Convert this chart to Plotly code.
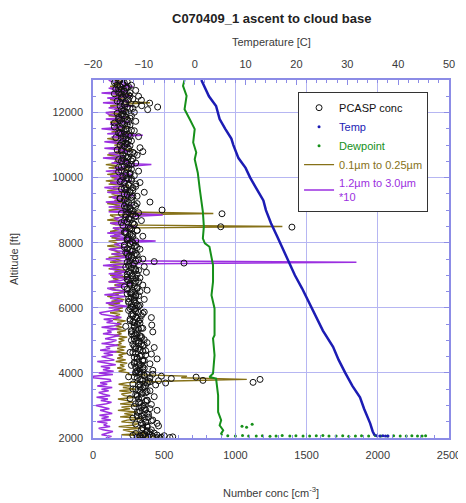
import plotly.graph_objects as go

# ---------------- data ----------------
# Temperature profile (deg C) vs altitude (ft)
temp_alt = [13000, 12500, 12200, 12000, 11800, 11500, 11200, 11000, 10600, 10300, 10000, 9700,
            9300, 9000, 8600, 8200, 7800, 7400, 7000, 6600, 6100, 5700, 5300, 4800, 4400,
            4000, 3600, 3250, 2900, 2450, 2200, 2080]
temp_val = [1.3, 2.8, 4.2, 4.5, 4.9, 6.0, 7.2, 7.6, 8.6, 10.0, 10.9, 12.0,
            13.5, 14.0, 15.0, 16.2, 17.4, 18.6, 19.7, 21.1, 22.7, 24.0, 25.2, 27.2, 28.3,
            29.6, 31.0, 32.5, 33.3, 34.5, 35.0, 35.4]
temp_dot_alt = [2070, 2065, 2070, 2060, 2065]
temp_dot_val = [35.8, 36.4, 37.0, 37.5, 38.0]

# Dewpoint (deg C) vs altitude (ft)
dew_alt = [13000, 12820, 12510, 12100, 11800, 11490, 11080, 10770, 10565, 10150, 9640, 9335,
           8955, 8500, 8135, 7980, 7877, 7314, 6800, 6390, 5980, 5672, 5160, 5060, 4545,
           3980, 3877, 3827, 3313, 2800, 2545, 2390, 2237, 2135, 2080]
dew_val = [-2.0, -2.3, -1.6, -2.0, -1.0, 0.0, -0.3, 0.3, 0.0, 0.6, 1.0, 1.3,
           1.6, 1.8, 1.6, 2.0, 2.9, 3.6, 3.6, 3.3, 3.9, 3.9, 3.9, 3.6, 3.9,
           3.6, 2.9, 4.2, 4.6, 4.6, 5.2, 4.9, 5.6, 5.2, 5.4]
dew_dot_alt = [2070, 2060, 2075, 2065, 2060, 2070, 2055, 2065, 2075, 2060, 2070, 2065,
               2060, 2070, 2075, 2060, 2065, 2070, 2055, 2065, 2070, 2060, 2075, 2065,
               2060, 2070, 2065, 2060, 2070, 2065, 2060, 2070, 2360, 2420, 2330]
dew_dot_val = [6.5, 8.0, 9.4, 10.6, 12.1, 13.3, 14.8, 16.0, 17.2, 18.7, 19.9, 21.3,
               22.6, 23.9, 25.2, 26.4, 27.8, 29.1, 30.3, 31.6, 32.8, 34.2, 35.5, 36.6,
               37.9, 39.1, 40.4, 41.6, 42.7, 43.8, 44.7, 45.4, 9.3, 11.3, 10.2]

# PCASP concentration (cm^-3) vs altitude (ft)
pcasp_alt = [
    12980, 12950, 12920, 12880, 12840, 12800, 12760, 12720, 12680, 12650, 12610, 12570,
    12540, 12500, 12460, 12420, 12380, 12330, 12290, 12250, 12210, 12170, 12130, 12090, 12050, 12010,
    11960, 11900, 11850, 11790, 11730, 11680, 11620, 11560, 11500, 11440, 11380, 11320, 11260, 11200, 11130, 11060,
    10980, 10920, 10860, 10800, 10740, 10690, 10630, 10570, 10510, 10450, 10390, 10320, 10260, 10200, 10130, 10060,
    9970, 9910, 9850, 9790, 9730, 9670, 9610, 9550, 9490, 9430, 9370, 9310, 9250, 9190, 9120, 9050, 9006,
    8980, 8920, 8890, 8860, 8800, 8740, 8680, 8620, 8560, 8490, 8480, 8440, 8380, 8320, 8260, 8200, 8130, 8060,
    7980, 7920, 7860, 7800, 7740, 7680, 7620, 7560, 7500, 7440, 7420, 7375, 7330, 7270, 7210, 7150, 7090, 7030,
    6980, 6920, 6870, 6810, 6760, 6700, 6650, 6590, 6540, 6480, 6430, 6370, 6320, 6260, 6200, 6140, 6080, 6020,
    5980, 5920, 5870, 5810, 5760, 5700, 5650, 5590, 5540, 5470, 5430, 5370, 5320, 5260, 5200, 5140, 5080, 5020,
    4980, 4930, 4880, 4830, 4780, 4730, 4680, 4630, 4580, 4530, 4480, 4430, 4380, 4330, 4280, 4230, 4180, 4130, 4080, 4030,
    3990, 3960, 3930, 3900, 3880, 3870, 3850, 3830, 3800, 3790, 3770, 3760, 3740, 3710, 3690, 3660, 3630, 3610,
    3570, 3510, 3450, 3390, 3330, 3270, 3210, 3150, 3090, 3030, 2970, 2910, 2850, 2790, 2730, 2670, 2610, 2550,
    2490, 2450, 2430, 2370, 2310, 2250, 2190,
    2140, 2120, 2100, 2090, 2080, 2070, 2060, 2050, 2040, 2035, 2030, 2025, 2020, 2015, 2010, 2005,
    # dense core
    12990, 12915, 12840, 12765, 12690, 12615, 12540, 12465, 12390, 12315, 12240, 12165, 12090, 12015,
    11940, 11865, 11790, 11715, 11640, 11565, 11490, 11415, 11340, 11265, 11190, 11115, 11040,
    10965, 10890, 10815, 10740, 10665, 10590, 10515, 10440, 10365, 10290, 10215, 10140, 10065,
    9990, 9915, 9840, 9765, 9690, 9615, 9540, 9465, 9390, 9315, 9240, 9165, 9090, 9015,
    8940, 8865, 8790, 8715, 8640, 8565, 8490, 8415, 8340, 8265, 8190, 8115, 8040,
    7965, 7890, 7815, 7740, 7665, 7590, 7515, 7440, 7365, 7290, 7215, 7140, 7065,
    6990, 6915, 6840, 6765, 6690, 6615, 6540, 6465, 6390, 6315, 6240, 6165, 6090, 6015,
    5940, 5865, 5790, 5715, 5640, 5565, 5490, 5415, 5340, 5265, 5190, 5115, 5040,
    4965, 4890, 4815, 4740, 4665, 4590, 4515, 4440, 4365, 4290, 4215, 4140, 4065,
    3990, 3915, 3840, 3765, 3690, 3615, 3540, 3465, 3390, 3315, 3240, 3165, 3090, 3015,
    2940, 2865, 2790, 2715, 2640, 2565, 2490, 2415, 2340, 2265, 2190, 2115, 2040,
    # second core pass
    12952, 12877, 12802, 12727, 12652, 12577, 12502, 12427, 12352, 12277, 12202, 12127, 12052,
    11977, 11902, 11827, 11752, 11677, 11602, 11527, 11452, 11377, 11302, 11227, 11152, 11077,
    11002, 10927, 10852, 10777, 10702, 10627, 10552, 10477, 10402, 10327, 10252, 10177, 10102,
    10027, 9952, 9877, 9802, 9727, 9652, 9577, 9502, 9427, 9352, 9277, 9202, 9127,
    9052, 8977, 8902, 8827, 8752, 8677, 8602, 8527, 8452, 8377, 8302, 8227, 8152,
    8077, 8002, 7927, 7852, 7777, 7702, 7627, 7552, 7477, 7402, 7327, 7252, 7177,
    7102, 7027, 6952, 6877, 6802, 6727, 6652, 6577, 6502, 6427, 6352, 6277, 6202,
    6127, 6052, 5977, 5902, 5827, 5752, 5677, 5602, 5527, 5452, 5377, 5302, 5227,
    5152, 5077, 5002, 4927, 4852, 4777, 4702, 4627, 4552, 4477, 4402, 4327, 4252,
    4177, 4102, 4027, 3952, 3877, 3802, 3727, 3652, 3577, 3502, 3427, 3352, 3277,
    3202, 3127, 3052, 2977, 2902, 2827, 2752, 2677, 2602, 2527, 2452, 2377, 2302,
    2227, 2152, 2077, 2002]
pcasp_conc = [
    180, 240, 150, 210, 270, 190, 230, 160, 300, 220, 260, 200,
    250, 320, 200, 280, 340, 230, 398, 300, 342, 454, 260, 384, 220, 290,
    210, 270, 180, 240, 300, 200, 260, 150, 230, 290, 190, 250, 320, 210, 270, 230,
    260, 330, 200, 350, 290, 310, 240, 280, 200, 300, 250, 180, 270, 320, 230, 290,
    270, 200, 330, 250, 300, 220, 280, 360, 240, 310, 190, 270, 400, 230, 300, 260, 485,
    280, 320, 906, 230, 300, 250, 340, 200, 290, 897, 1397, 260, 310, 220, 280, 350, 240, 300,
    260, 300, 220, 330, 280, 240, 310, 270, 350, 300, 430, 639, 250, 360, 290, 320, 375, 240,
    280, 330, 240, 300, 260, 350, 220, 310, 380, 270, 240, 320, 290, 360, 250, 300, 330, 270,
    300, 250, 360, 280, 340, 410, 260, 320, 290, 413, 230, 350, 300, 420, 270, 330, 310, 360,
    320, 380, 280, 350, 430, 300, 370, 260, 410, 340, 290, 450, 360, 310, 400, 270, 350, 330, 420, 300,
    300, 420, 360, 480, 250, 724, 400, 550, 1173, 330, 772, 460, 390, 1124, 510, 280, 440, 370,
    330, 280, 400, 350, 300, 430, 260, 380, 320, 410, 290, 360, 450, 310, 390, 340, 280, 420,
    370, 450, 300, 460, 350, 410, 380,
    300, 400, 350, 450, 280, 500, 330, 420, 370, 560, 310, 480, 390, 540, 450, 340,
    # dense core
    190, 220, 170, 240, 200, 180, 230, 210, 250, 190, 220, 240, 200, 230,
    200, 230, 180, 250, 210, 190, 240, 220, 200, 260, 230, 210, 240,
    220, 250, 200, 260, 230, 210, 270, 240, 220, 250, 200, 260, 230,
    240, 270, 220, 250, 280, 230, 260, 240, 270, 220, 250, 290, 240, 260,
    250, 280, 230, 260, 240, 290, 250, 270, 230, 260, 280, 240, 270,
    260, 290, 240, 270, 300, 250, 280, 260, 290, 250, 270, 300, 260,
    270, 300, 250, 290, 260, 310, 280, 260, 300, 270, 290, 250, 310, 280,
    290, 320, 270, 300, 330, 280, 310, 290, 320, 270, 300, 340, 290,
    300, 340, 290, 320, 350, 300, 330, 310, 350, 290, 320, 360, 310,
    330, 360, 310, 350, 380, 320, 350, 330, 370, 310, 340, 380, 330, 360,
    340, 370, 320, 360, 390, 330, 370, 350, 380, 340, 400, 360, 420,
    # second core pass
    160, 210, 250, 180, 220, 150, 260, 200, 170, 230, 190, 280, 210,
    170, 220, 260, 190, 150, 240, 200, 270, 180, 230, 160, 250, 200,
    190, 240, 170, 280, 210, 250, 180, 230, 270, 200, 240, 180, 260,
    210, 250, 190, 300, 230, 200, 260, 220, 280, 190, 240, 310, 220,
    230, 270, 200, 300, 250, 220, 280, 210, 260, 310, 230, 270, 250,
    240, 280, 220, 310, 260, 230, 290, 250, 320, 240, 280, 230, 300,
    250, 310, 240, 280, 320, 260, 290, 240, 330, 270, 300, 250, 290,
    270, 320, 260, 300, 350, 280, 310, 260, 330, 290, 340, 270, 310,
    290, 340, 270, 320, 360, 300, 330, 280, 370, 310, 350, 290, 330,
    300, 350, 320, 380, 290, 340, 400, 330, 360, 300, 380, 340, 310,
    320, 370, 300, 350, 400, 330, 380, 310, 360, 410, 340, 380, 350,
    380, 430, 350, 470]

# size-binned concentrations are sampled every 50 ft from 2000 to 13000 ft
bin_alt = list(range(2000, 13001, 50))

# 0.1um to 0.25um concentration (one row per 1000 ft)
small_conc = [
    300, 440, 200, 380, 260, 210, 340, 180, 290, 320, 200, 240, 350, 190, 280, 220, 310, 175, 260, 200,
    310, 190, 280, 240, 175, 300, 220, 200, 270, 185, 300, 210, 260, 180, 240, 560, 1080, 620, 660, 250,
    250, 180, 230, 170, 220, 190, 240, 160, 230, 170, 210, 180, 240, 150, 220, 170, 230, 160, 200, 180,
    220, 180, 240, 150, 200, 170, 230, 140, 210, 160, 200, 170, 230, 140, 190, 160, 190, 120, 210, 150,
    210, 150, 110, 190, 130, 220, 170, 100, 180, 140, 240, 160, 120, 200, 150, 230, 110, 180, 140, 250,
    120, 200, 150, 230, 110, 180, 140, 250, 120, 200, 160, 110, 230, 130, 190, 150, 120, 200, 100, 180,
    160, 110, 230, 130, 190, 150, 220, 120, 180, 140, 1330, 160, 120, 200, 100, 180, 140, 120, 845, 170,
    110, 220, 140, 190, 100, 210, 150, 240, 110, 180, 130, 220, 100, 190, 140, 250, 110, 180, 90, 200,
    130, 220, 100, 190, 140, 250, 110, 180, 90, 200, 150, 230, 120, 180, 100, 210, 160, 280, 130, 200,
    150, 230, 120, 180, 100, 210, 160, 280, 130, 200, 110, 240, 150, 180, 120, 220, 140, 260, 110, 200,
    110, 240, 150, 180, 120, 200, 400, 170, 120, 220, 140, 260, 110, 200, 150, 230, 120, 190, 140, 210,
    150]

# 1.2um to 3.0um concentration *10 (one row per 1000 ft)
large_conc = [
    90, 130, 60, 110, 140, 70, 40, 120, 75, 100, 30, 125, 60, 110, 45, 135, 80, 50, 115, 70,
    20, 95, 130, 55, 105, 25, 120, 70, 40, 110, 60, 135, 30, 100, 50, 125, 120, 0, 5, 140,
    40, 145, 70, 120, 55, 160, 85, 30, 150, 95, 60, 140, 75, 165, 50, 120, 90, 175, 60, 130,
    165, 85, 140, 185, 70, 130, 100, 170, 60, 150, 190, 95, 140, 75, 200, 110, 60, 45, 130, 185,
    110, 240, 150, 90, 210, 170, 120, 230, 80, 190, 260, 140, 100, 230, 160, 280, 110, 200, 250, 130,
    210, 110, 250, 170, 120, 230, 70, 180, 1850, 160, 90, 260, 200, 130, 290, 170, 110, 240, 190, 150,
    230, 440, 160, 270, 120, 210, 100, 250, 180, 140, 300, 200, 120, 260, 170, 150, 230, 490, 260, 110,
    260, 180, 110, 280, 200, 90, 240, 160, 130, 290, 210, 100, 250, 170, 80, 230, 190, 120, 270, 150,
    230, 120, 270, 180, 90, 220, 150, 260, 410, 130, 250, 190, 70, 220, 160, 110, 260, 200, 80, 240,
    260, 170, 80, 240, 200, 130, 350, 100, 230, 180, 60, 210, 150, 120, 260, 190, 90, 230, 170, 110,
    90, 230, 160, 110, 280, 200, 70, 250, 180, 100, 270, 210, 60, 240, 150, 110, 280, 200, 240, 130,
    110]

# axis ticks
conc_ticks = [0, 500, 1000, 1500, 2000, 2500]
temp_ticks = [-20, -10, 0, 10, 20, 30, 40, 50]
alt_ticks = [2000, 4000, 6000, 8000, 10000, 12000]

# ---------------- styling ----------------
C_TEMP = "#1c1cb4"
C_DEW = "#16901a"
C_SMALL = "#867118"
C_LARGE = "#9b2fe0"
AXIS = "#8c8ce6"
GRID = "#b6b6f2"
FONT = "Liberation Sans, Arial, sans-serif"
TICKC = "#3a3a3a"

fig = go.Figure()

fig.add_trace(go.Scatter(x=small_conc, y=bin_alt, mode="lines",
                         line=dict(color=C_SMALL, width=1.4),
                         name='<span style="color:%s">0.1\u00b5m to 0.25\u00b5m</span>' % C_SMALL,
                         legendrank=4))
fig.add_trace(go.Scatter(x=large_conc, y=bin_alt, mode="lines",
                         line=dict(color=C_LARGE, width=1.5),
                         name='<span style="color:%s">1.2\u00b5m to 3.0\u00b5m<br>*10</span>' % C_LARGE,
                         legendrank=5))
fig.add_trace(go.Scatter(x=pcasp_conc, y=pcasp_alt, mode="markers",
                         marker=dict(symbol="circle-open", size=6, color="#111111",
                                     line=dict(width=1, color="#111111")),
                         name="PCASP conc", legendrank=1))
fig.add_trace(go.Scatter(x=dew_val, y=dew_alt, mode="lines", xaxis="x2",
                         line=dict(color=C_DEW, width=2), showlegend=False,
                         legendgroup="dew"))
fig.add_trace(go.Scatter(x=dew_dot_val, y=dew_dot_alt, mode="markers", xaxis="x2",
                         marker=dict(color=C_DEW, size=3),
                         name='<span style="color:%s">Dewpoint</span>' % C_DEW,
                         legendgroup="dew", legendrank=3))
fig.add_trace(go.Scatter(x=temp_val, y=temp_alt, mode="lines", xaxis="x2",
                         line=dict(color=C_TEMP, width=2.5), showlegend=False,
                         legendgroup="temp"))
fig.add_trace(go.Scatter(x=temp_dot_val, y=temp_dot_alt, mode="markers", xaxis="x2",
                         marker=dict(color=C_TEMP, size=3),
                         name='<span style="color:%s">Temp</span>' % C_TEMP,
                         legendgroup="temp", legendrank=2))

# the page adds an 8 px body margin, so the figure is 8 px smaller and margins shifted
fig.update_layout(
    width=458, height=495,
    margin=dict(l=85, r=17, t=72, b=65),
    paper_bgcolor="white", plot_bgcolor="white",
    font=dict(family=FONT, size=11, color=TICKC),
    showlegend=True,
    legend=dict(x=0.576, y=0.966, xanchor="left", yanchor="top",
                bgcolor="white", bordercolor="#333333", borderwidth=1,
                font=dict(size=11, color="#111111"), tracegroupgap=0,
                itemwidth=30),
    xaxis=dict(range=[0, 2500], tickvals=conc_ticks, showgrid=True, gridcolor=GRID,
               gridwidth=1, zeroline=False, showline=True, linecolor=AXIS, linewidth=1.5,
               ticks="inside", ticklen=5, tickcolor=AXIS, ticklabelstandoff=6, automargin=False,
               minor=dict(dtick=100, ticks="inside", ticklen=3, tickcolor=AXIS, showgrid=False),
               tickfont=dict(size=11, color=TICKC)),
    xaxis2=dict(range=[-20, 50], tickvals=temp_ticks, overlaying="x", side="top",
                showgrid=False, zeroline=False, showline=True, linecolor=AXIS, linewidth=1.5,
                ticks="inside", ticklen=5, tickcolor=AXIS, ticklabelstandoff=6, automargin=False,
                minor=dict(dtick=2, ticks="inside", ticklen=3, tickcolor=AXIS, showgrid=False),
                tickfont=dict(size=11, color=TICKC)),
    yaxis=dict(range=[2000, 13000], tickvals=alt_ticks, tickformat="d", showgrid=True,
               gridcolor=GRID, gridwidth=1, zeroline=False, showline=True, linecolor=AXIS,
               linewidth=1.5, mirror="ticks", ticks="inside", ticklen=5, tickcolor=AXIS,
               ticklabelstandoff=6, automargin=False,
               minor=dict(dtick=500, ticks="inside", ticklen=3, tickcolor=AXIS, showgrid=False),
               tickfont=dict(size=11, color=TICKC)),
    annotations=[
        dict(text="<b>C070409_1 ascent to cloud base</b>", x=0.5, y=1.173, xref="paper",
             yref="paper", showarrow=False, font=dict(size=13, color="#222222"),
             xanchor="center", yanchor="middle"),
        dict(text="Temperature [C]", x=0.5, y=1.106, xref="paper", yref="paper",
             showarrow=False, font=dict(size=11, color=TICKC), xanchor="center", yanchor="middle"),
        dict(text="Number conc [cm<sup>-3</sup>]", x=0.5, y=-0.152, xref="paper", yref="paper",
             showarrow=False, font=dict(size=11, color=TICKC), xanchor="center", yanchor="middle"),
        dict(text="Altitude [ft]", x=-0.222, y=0.5, xref="paper", yref="paper", textangle=-90,
             showarrow=False, font=dict(size=11, color=TICKC), xanchor="center", yanchor="middle"),
    ],
)

fig.write_html("out.html")
